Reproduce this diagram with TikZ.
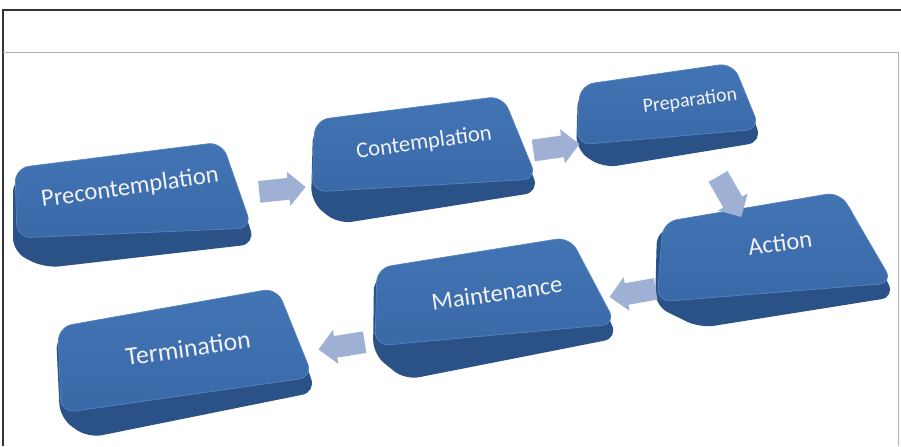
\documentclass[tikz,border=0pt]{standalone}
\usepackage{fontspec}
\setmainfont{Carlito}
\usepackage{tikz}
\usetikzlibrary{shapes.arrows}
\definecolor{keytop}{RGB}{58,105,168}
\definecolor{keytoplight}{RGB}{66,116,180}
\definecolor{keyside}{RGB}{42,82,134}
\definecolor{keyrim}{RGB}{88,132,190}
\definecolor{flowblue}{RGB}{158,177,212}
\tikzstyle{keybase}=[fill=keyside, rounded corners=12pt]
\tikzstyle{keyface}=[top color=keytoplight, bottom color=keytop, draw=keyrim, line width=0.6pt, rounded corners=12pt]
\tikzstyle{stagetext}=[text=black!5, rotate=8, inner sep=0pt]
\tikzstyle{flowarrow}=[single arrow, fill=flowblue, draw=none, minimum height=1.4cm, text height=0.32cm, text depth=0.32cm,
    single arrow head extend=0.19cm, inner sep=0pt]

\begin{document}
\begin{tikzpicture}[x=0.03cm, y=-0.03cm]
    \useasboundingbox (0,0) rectangle (901,446);

    % frame
    \draw[black!80, line width=1pt] (3,446) -- (3,10) -- (901,10);
    \draw[black!30, line width=0.6pt] (3,52) -- (898,52) -- (898,446);

    % key bodies
    \foreach \p/\q/\r/\s/\t in {{(13,178)/(225,150)/(255,244)/(45,268)/(13,252)}, {(313,128)/(506,104)/(539,192)/(338,224)/(311,202)},
        {(578,92)/(736,70)/(762,142)/(603,168)/(576,150)}, {(657,230)/(845,198)/(895,297)/(700,328)/(655,306)},
        {(374,276)/(574,245)/(618,338)/(405,380)/(373,354)}, {(56,335)/(281,296)/(316,392)/(88,438)/(60,418)}}
        \path[keybase] \p -- \q -- \r -- \s -- \t -- cycle;

    \foreach \p/\q/\r/\s in {{(15,168)/(222,142)/(252,228)/(17,238)}, {(315,120)/(503,96)/(537,179)/(312,192)},
        {(580,85)/(733,63)/(760,129)/(577,145)}, {(663,222)/(840,192)/(893,283)/(657,302)},
        {(377,268)/(570,237)/(616,324)/(375,346)}, {(58,327)/(277,288)/(313,377)/(61,413)}}
        \path[keyface] \p -- \q -- \r -- \s -- cycle;

    \foreach \pos/\name/\label/\fs in {{(130,188)/pre/Precontemplation/21}, {(424,143)/con/Contemplation/19.3},
        {(690,101)/prep/Preparation/17}, {(780,243)/act/Action/21}, {(497,293)/main/Maintenance/21},
        {(188,348)/term/Termination/22}}
        \node[stagetext, font=\fontsize{\fs}{\fs}\selectfont] (\name) at \pos {\label};

    % flow arrows
    \foreach \pos/\name/\ang in {{(277,190)/precon/6}, {(551,148)/conprep/8}, {(727,192)/prepact/-60},
        {(638,292)/actmain/190}, {(347,345)/mainterm/189}}
        \node[flowarrow, rotate=\ang] (\name) at \pos {};

\end{tikzpicture}
\end{document}
